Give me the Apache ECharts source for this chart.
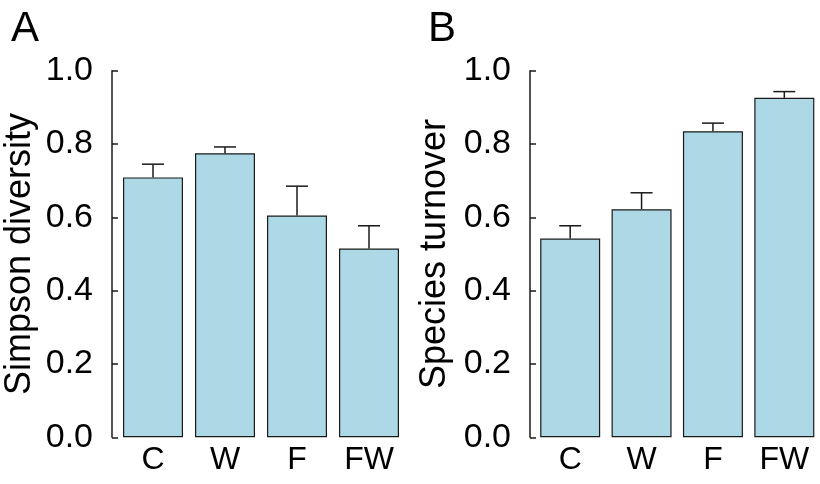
<!DOCTYPE html>
<html>
<head>
<meta charset="utf-8">
<script src="https://cdn.jsdelivr.net/npm/echarts@6/dist/echarts.min.js"></script>
<style>html,body{margin:0;padding:0;background:#fff}#c{width:820px;height:484px}</style>
</head>
<body>
<div id="c"></div>
<script>
const categories = ['C', 'W', 'F', 'FW'];
const simpsonMean = [0.709, 0.775, 0.605, 0.515];
const simpsonErr = [0.036, 0.017, 0.080, 0.062];
const turnoverMean = [0.542, 0.622, 0.835, 0.926];
const turnoverErr = [0.035, 0.045, 0.022, 0.017];
const yTicks = [0, 0.2, 0.4, 0.6, 0.8, 1.0];
const panelNames = ['Simpson diversity', 'Species turnover'];
const panelLetters = ['A', 'B'];

const FONT = 'Liberation Sans, Arial, Helvetica, sans-serif';
const INK = '#1a1a1a';

const chart = echarts.init(document.getElementById('c'), null, {renderer: 'canvas'});

function yAxisFor(i, offset, gap) {
  return {
    type: 'value', gridIndex: i, min: yTicks[0], max: yTicks[yTicks.length - 1], interval: 0.2,
    offset: offset,
    name: panelNames[i], nameLocation: 'middle', nameGap: gap,
    nameTextStyle: {fontFamily: FONT, fontSize: 36, color: '#000'},
    axisLine: {show: true, lineStyle: {color: INK, width: 1.5}},
    axisTick: {show: true, inside: true, length: 6, lineStyle: {color: INK, width: 1.5}},
    axisLabel: {
      fontFamily: FONT, fontSize: 34, color: '#000', margin: 19,
      formatter: v => v.toFixed(1)
    },
    splitLine: {show: false}
  };
}
function xAxisFor(i) {
  return {
    type: 'category', gridIndex: i, data: categories,
    axisLine: {show: false}, axisTick: {show: false},
    axisLabel: {fontFamily: FONT, fontSize: 32, color: '#000', margin: 7, interval: 0}
  };
}
function errSeries(i, mean, err) {
  return {
    type: 'custom', xAxisIndex: i, yAxisIndex: i, z: 5,
    data: categories.map((c, k) => [k, mean[k], mean[k] + err[k]]),
    renderItem: (params, api) => {
      const base = api.coord([api.value(0), api.value(1)]);
      const top = api.coord([api.value(0), api.value(2)]);
      const hw = 11;
      return {
        type: 'group',
        children: [
          {type: 'line', shape: {x1: base[0], y1: base[1], x2: top[0], y2: top[1]}, style: {stroke: INK, lineWidth: 1.5}},
          {type: 'line', shape: {x1: top[0] - hw, y1: top[1], x2: top[0] + hw, y2: top[1]}, style: {stroke: INK, lineWidth: 1.5}}
        ]
      };
    }
  };
}
function barSeries(i, mean) {
  return {
    type: 'bar', xAxisIndex: i, yAxisIndex: i, data: mean, barWidth: 60,
    itemStyle: {color: '#ADD8E6', borderColor: INK, borderWidth: 1.2},
    silent: true
  };
}

chart.setOption({
  animation: false,
  backgroundColor: '#fff',
  grid: [
    {left: 117, top: 70.7, width: 288, height: 366.6},
    {left: 534.5, top: 70.7, width: 288, height: 366.6}
  ],
  xAxis: [xAxisFor(0), xAxisFor(1)],
  yAxis: [yAxisFor(0, 5, 74), yAxisFor(1, 4.5, 77)],
  series: [
    barSeries(0, simpsonMean), errSeries(0, simpsonMean, simpsonErr),
    barSeries(1, turnoverMean), errSeries(1, turnoverMean, turnoverErr)
  ],
  graphic: [
    {type: 'text', left: 11, top: 8, style: {text: panelLetters[0], font: '42px ' + FONT, fill: '#000'}},
    {type: 'text', left: 428, top: 8, style: {text: panelLetters[1], font: '42px ' + FONT, fill: '#000'}}
  ]
});
</script>
</body>
</html>
